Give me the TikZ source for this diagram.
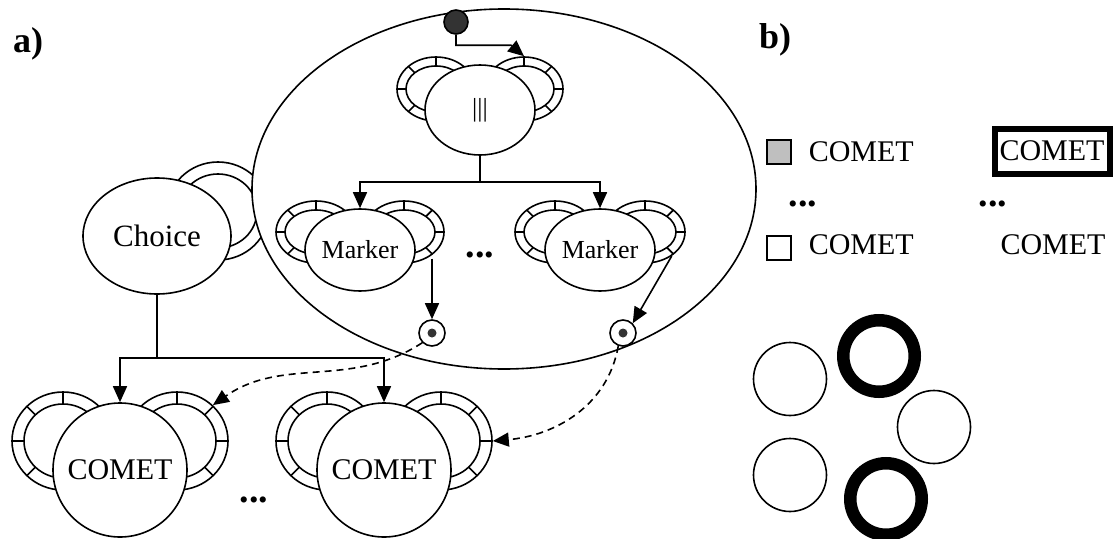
\documentclass[tikz,border=0pt]{standalone}
\usepackage{fontspec}
\setmainfont{Liberation Serif}
\usetikzlibrary{positioning, arrows.meta, shapes.geometric, calc}

\newcommand{\cometsize}{\fontsize{30}{36}\selectfont}
\newcommand{\markersize}{\fontsize{26}{30}\selectfont}

% lobe with a ticked ring: name, centre, x radius, y radius, ring width
\newcommand{\ticklobe}[5]{%
  \node[lobe, minimum width=2*#3, minimum height=2*#4] (#1) at (#2) {};
  \draw (#1.center) ellipse [x radius=#3-#5, y radius=#4-#5];
  \foreach \a in {0,45,...,315}
    \draw ($(#1.center)+(\a:#3-#5 and #4-#5)$) -- ($(#1.center)+(\a:#3 and #4)$);
}

\begin{document}
\begin{tikzpicture}[
    x=1pt, y=1pt, line width=1.6pt,
    >={Triangle[length=16pt, width=14pt]},
    lobe/.style={ellipse, draw, fill=white, inner sep=0pt},
    part/.style={ellipse, draw, fill=white, inner sep=0pt, font=\markersize},
    comet/.style={circle, draw, fill=white, minimum size=134, inner sep=0pt, font=\cometsize},
    port/.style={circle, draw, fill=white, minimum size=26, inner sep=0pt,
        path picture={\fill[black!80] (path picture bounding box.center) circle (4.5);}},
    panel/.style={font=\bfseries\fontsize{36}{40}\selectfont},
    legend/.style={anchor=west, inner sep=0pt, font=\cometsize},
    swatch/.style={draw, minimum size=24, inner sep=0pt, line width=1.2pt},
    ring/.style={circle, draw, minimum size=73, inner sep=0pt},
    hot/.style={circle, draw, minimum size=71.5, inner sep=0pt, line width=12.5pt},
    more/.style={font=\bfseries\fontsize{38}{40}\selectfont, inner sep=0pt}
]
\useasboundingbox (0,0) rectangle (1116,-538);

% panel labels
\node[panel] (la) at (28,-44) {a)};
\node[panel] (lb) at (775,-40) {b)};

% Choice lobe sits behind the group
\node[lobe, minimum width=102, minimum height=98] (chR) at (218,-211) {};
\draw (chR.center) ellipse [x radius=39, y radius=37];

\node[ellipse, draw, fill=white, minimum width=504, minimum height=360] (grp) at (504,-189) {};
\node[part, minimum width=148, minimum height=116, font=\fontsize{31}{36}\selectfont] (choice) at (157,-236) {Choice};

% parallel node
\ticklobe{parL}{436,-89}{39}{32}{9}
\ticklobe{parR}{524,-89}{39}{32}{9}
\node[part, minimum width=110, minimum height=90] (par) at (480,-110) {|||};

% markers
\ticklobe{mkLl}{316,-232}{40}{31}{9}
\ticklobe{mkLr}{404,-232}{40}{31}{9}
\node[part, minimum width=110, minimum height=82] (mkL) at (360,-250) {Marker};
\ticklobe{mkRl}{555,-232}{40}{31}{9}
\ticklobe{mkRr}{645,-232}{40}{31}{9}
\node[part, minimum width=110, minimum height=82] (mkR) at (600,-250) {Marker};
\node[more] (mdots) at (480,-255) {...};

% COMETs
\ticklobe{cmAl}{63,-441}{51}{49}{12}
\ticklobe{cmAr}{177,-441}{51}{49}{12}
\node[comet] (cmA) at (120,-470) {COMET};
\ticklobe{cmBl}{327,-441}{51}{49}{12}
\ticklobe{cmBr}{441,-441}{51}{49}{12}
\node[comet] (cmB) at (384,-470) {COMET};
\node[more] (cdots) at (254,-500) {...};

% start and ports
\node[circle, draw, fill=black!80, minimum size=24, inner sep=0pt] (start) at (456,-22) {};
\node[port] (pL) at (432,-333) {};
\node[port] (pR) at (623,-333) {};

% connectors
\draw[->] (start.south) |- ([xshift=-13, yshift=11]parR.north) -- (parR.north);
\draw[->] (par.south) -- ++(0,-26) -| (mkL.north);
\draw[->] (par.south) -- ++(0,-26) -| (mkR.north);
\draw[->] (pL |- mkLr.-50) -- (pL.north);
\draw[->] (mkRr.-42) -- (pR.north east);
\draw[->] (choice.south) -- ++(0,-63) -| (cmA.north);
\draw[->] (choice.south) -- ++(0,-63) -| (cmB.north);
\draw[->, dash pattern=on 7pt off 5pt] (pL.225) to[out=213, in=35] (cmAr.45);
\draw[->, dash pattern=on 7pt off 5pt] (pR.250) to[out=-100, in=5] (cmBr.east);

% b) legend
\node[swatch, fill=gray!50] (sq1) at (779,-152) {};
\node[legend] (t1) at (808,-152) {COMET};
\node[draw, line width=6pt, minimum width=115, minimum height=45, inner sep=0pt, font=\cometsize] (t2) at (1052,-151) {COMET};
\node[more] (d1) at (803,-204) {...};
\node[more] (d2) at (993,-204) {...};
\node[swatch] (sq2) at (779,-248) {};
\node[legend] (t3) at (808,-245) {COMET};
\node[inner sep=0pt, font=\cometsize] (t4) at (1053,-245) {COMET};

% b) circles
\node[ring] (c1) at (790,-379) {};
\node[hot] (c2) at (879,-356) {};
\node[ring] (c3) at (934,-427) {};
\node[ring] (c4) at (790,-475) {};
\node[hot] (c5) at (886,-499) {};
\end{tikzpicture}
\end{document}
